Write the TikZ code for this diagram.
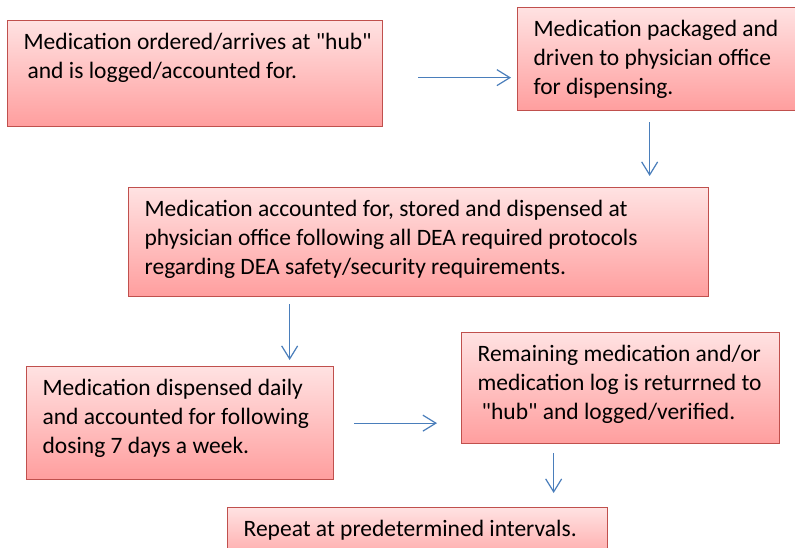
\documentclass[tikz,border=0pt]{standalone}
\usepackage{fontspec}
\setmainfont{Carlito}[Ligatures=TeXOff]
\usetikzlibrary{arrows.meta}
\definecolor{medline}{RGB}{192,80,77}
\definecolor{medtop}{RGB}{255,226,226}
\definecolor{medbottom}{RGB}{255,158,158}
\definecolor{flowblue}{RGB}{74,126,187}
% box text: width, height, lines
\newcommand{\medtext}[3]{\parbox[c][#2][t]{#1}{\leftskip=16pt\rightskip=0pt plus 1fil\parindent=0pt\rule{0pt}{29pt}#3}}
\begin{document}
\begin{tikzpicture}[x=1pt,y=-1pt,
    medbox/.style={draw=medline,line width=1.3pt,top color=medtop,bottom color=medbottom,
      inner sep=0pt,anchor=north west,font=\fontsize{23.5pt}{29pt}\selectfont},
    flow/.style={draw=flowblue,line width=1.2pt,-{Straight Barb[length=13pt,width=16pt]}}]
    \useasboundingbox (0,0) rectangle (795,548);
    \node (ordered) [medbox] at (7,20) {\medtext{375pt}{106pt}{Medication ordered/arrives at "hub"\\\hspace*{4pt}and is logged/accounted for.}};
    \node (packaged) [medbox] at (517,7) {\medtext{278pt}{103pt}{Medication packaged and\\driven to physician office\\for dispensing.}};
    \node (stored) [medbox] at (128,187) {\medtext{580pt}{109pt}{Medication accounted for, stored and dispensed at\\physician office following all DEA required protocols\\regarding DEA safety/security requirements.}};
    \node (daily) [medbox] at (26,366) {\medtext{307pt}{113pt}{Medication dispensed daily\\and accounted for following\\dosing 7 days a week.}};
    \node (returned) [medbox] at (461,332) {\medtext{318pt}{111pt}{Remaining medication and/or\\medication log is returrned to\\\hspace*{4pt}"hub" and logged/verified.}};
    \node (repeat) [medbox] at (227,507) {\medtext{380pt}{60pt}{Repeat at predetermined intervals.}};
    % arrows between the steps
    \draw [flow] ([xshift=35pt,yshift=-4pt]ordered.east) -- ([xshift=-6pt,yshift=-4pt]ordered.east -| packaged.west);
    \draw [flow] ([xshift=-7pt,yshift=-11pt]packaged.south) -- ([xshift=-7pt,yshift=11pt]packaged.south |- stored.north);
    \draw [flow] ([xshift=-129pt,yshift=-7pt]stored.south) -- ([xshift=-129pt,yshift=6pt]stored.south |- daily.north);
    \draw [flow] ([xshift=20pt]daily.east) -- ([xshift=-24pt]daily.east -| returned.west);
    \draw [flow] ([xshift=-67pt,yshift=-9pt]returned.south) -- ([xshift=-67pt,yshift=14pt]returned.south |- repeat.north);
\end{tikzpicture}
\end{document}
